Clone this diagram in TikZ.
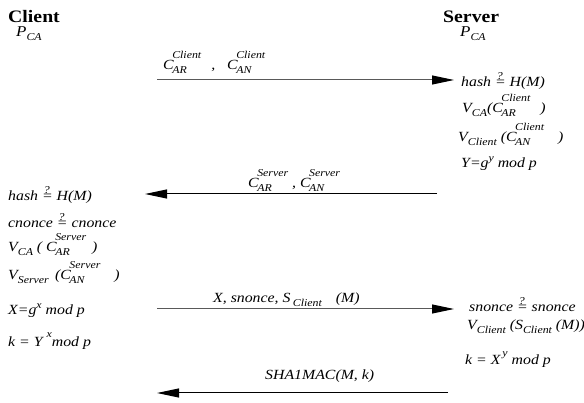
\documentclass[tikz,border=0pt]{standalone}
\usepackage{fontspec}
\setmainfont{Liberation Serif}[FakeStretch=1.13]
\usetikzlibrary{arrows.meta}
\newcommand{\smallit}{\fontsize{10.5}{11}\selectfont}
\newcommand{\qeq}{\mbox{\rlap{\kern1.8pt\raisebox{7.5pt}{\smallit ?}}=}}
\newcommand{\subsup}[2]{\kern-1.5pt\rlap{\raisebox{-3.5pt}{\smallit #1}}\raisebox{11.5pt}{\smallit #2}}
\newcommand{\subs}[1]{\raisebox{-3.5pt}{\smallit #1}}
\newcommand{\sups}[2][6pt]{\raisebox{#1}{\smallit #2}}

\begin{document}
\begin{tikzpicture}[x=1pt, y=-1pt,
    txt/.style={anchor=base west, inner sep=0pt, font=\itshape\fontsize{14}{16}\selectfont},
    party/.style={anchor=base west, inner sep=0pt, font=\bfseries\fontsize{17.5}{19}\selectfont},
    msg/.style={line width=1pt, -{Triangle[length=22pt,width=9pt,color=black]}},
    msggray/.style={msg, draw=black!65}]
    \useasboundingbox (0,0) rectangle (584,403);

    % parties
    \node[party] (client) at (8,23) {Client};
    \node[txt, font=\itshape\fontsize{15}{17}\selectfont] (cpca) at (16,37) {P\subs{CA}};
    \node[party] (server) at (443,23) {Server};
    \node[txt, font=\itshape\fontsize{15}{17}\selectfont] (spca) at (460,37) {P\subs{CA}};

    % message 1
    \coordinate (m1a) at (157,80);
    \coordinate (m1b) at (454,80);
    \draw[msggray] (m1a) -- (m1b);
    \node[txt] (m1) at (163,70) {C\subsup{AR}{Client}\hspace{10pt},\hspace{12pt}C\subsup{AN}{Client}};

    \node[txt] (shash) at (461,87) {hash \qeq{} H(M)};
    \node[txt] (svca) at (462,113) {V\subs{CA}(C\subsup{AR}{Client}\hspace{10pt})};
    \node[txt] (svcl) at (458,142) {V\subs{Client} (C\subsup{AN}{Client}\hspace{14pt})};
    \node[txt] (sy) at (461,168) {Y=g\sups{y} mod p};

    % message 2
    \coordinate (m2a) at (437,194);
    \coordinate (m2b) at (145,194);
    \draw[msg] (m2a) -- (m2b);
    \node[txt] (m2) at (248,188) {C\subsup{AR}{Server} , C\subsup{AN}{Server}};

    \node[txt] (chash) at (8,201) {hash \qeq{} H(M)};
    \node[txt] (ccn) at (8,228) {cnonce \qeq{} cnonce};
    \node[txt] (cvca) at (8,252) {V\subs{CA} ( C\subsup{AR}{Server}\hspace{6pt})};
    \node[txt] (cvsv) at (8,280) {V\subs{Server} \,(C\subsup{AN}{Server}\hspace{14pt})};
    \node[txt] (cx) at (8,315) {X=g\sups{x} mod p};
    \node[txt] (ck) at (8,347) {k = Y\hspace{4pt}\sups[9pt]{x}mod p};

    % message 3
    \coordinate (m3a) at (157,309);
    \coordinate (m3b) at (454,309);
    \draw[msggray] (m3a) -- (m3b);
    \node[txt] (m3) at (213,303) {X, snonce, S\,\subs{Client}\hspace{14pt}(M)};

    \node[txt] (ssn) at (469,312) {snonce \qeq{} snonce};
    \node[txt] (svsig) at (467,330) {V\subs{Client} (S\subs{Client} (M))};
    \node[txt] (sk) at (465,365) {k = X\hspace{2pt}\sups[8pt]{y} mod p};

    % message 4
    \coordinate (m4a) at (448,393);
    \coordinate (m4b) at (157,393);
    \draw[msg] (m4a) -- (m4b);
    \node[txt] (m4) at (265,380) {SHA1MAC(M, k)};
\end{tikzpicture}
\end{document}
